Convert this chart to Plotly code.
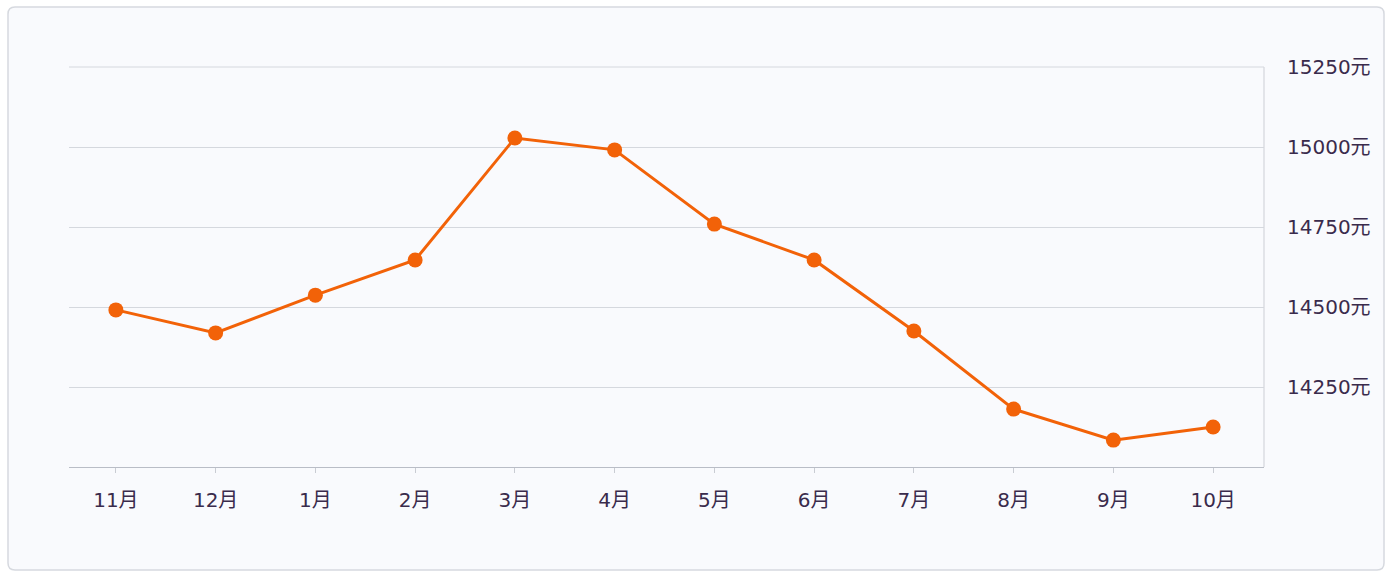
import plotly.graph_objects as go

months = ["11月", "12月", "1月", "2月", "3月", "4月", "5月", "6月", "7月", "8月", "9月", "10月"]
prices = [14491, 14419, 14537, 14647, 15028, 14991, 14759, 14647, 14425, 14181, 14084, 14125]
y_ticks = [14250, 14500, 14750, 15000, 15250]
y_labels = [f"{v}元" for v in y_ticks]

W, H = 1392, 578
L, R, T, B = 69, 128, 67, 111
pw, ph = W - L - R, H - T - B

def px(x):
    return (x - L) / pw

def py(y):
    return (H - B - y) / ph

ORANGE = "#f26208"
TEXT = "#3a2b4c"
FONT = "DejaVu Sans, Noto Sans CJK SC, sans-serif"

fig = go.Figure()
fig.add_trace(go.Scatter(
    x=months, y=prices, mode="lines+markers",
    line=dict(color=ORANGE, width=3),
    marker=dict(color=ORANGE, size=15),
    hoverinfo="x+y", showlegend=False,
))

# card background with rounded corners
x0, x1, y0, y1 = px(8), px(1384), py(570), py(7)
rx, ry = 7 / pw, 7 / ph
card = (f"M {x0+rx},{y1} L {x1-rx},{y1} Q {x1},{y1} {x1},{y1-ry} "
        f"L {x1},{y0+ry} Q {x1},{y0} {x1-rx},{y0} L {x0+rx},{y0} "
        f"Q {x0},{y0} {x0},{y0+ry} L {x0},{y1-ry} Q {x0},{y1} {x0+rx},{y1} Z")
shapes = [
    dict(type="path", xref="paper", yref="paper", path=card,
         fillcolor="#f9fafd", line=dict(color="#d6d9df", width=1.5), layer="below"),
    dict(type="line", xref="paper", yref="paper", x0=1, x1=1, y0=0, y1=1,
         line=dict(color="#d3d6dc", width=1.2), layer="below"),
    dict(type="line", xref="paper", yref="paper", x0=0, x1=1, y0=1, y1=1,
         line=dict(color="#d5d8de", width=1), layer="below"),
]

fig.update_layout(
    width=W, height=H,
    margin=dict(l=L, r=R, t=T, b=B),
    paper_bgcolor="white",
    plot_bgcolor="rgba(0,0,0,0)",
    shapes=shapes,
    font=dict(family=FONT, color=TEXT, size=20),
    xaxis=dict(
        type="category", range=[-0.47, 11.51],
        showgrid=False, showline=True, linecolor="#b9bdc6", linewidth=1.2,
        ticks="outside", ticklen=5, tickcolor="#c9ccd3", tickwidth=1,
        ticklabelstandoff=10, tickfont=dict(family=FONT, size=20, color=TEXT),
        zeroline=False, fixedrange=True,
    ),
    yaxis=dict(
        side="right", range=[14000, 15250], tickvals=y_ticks, ticktext=y_labels,
        showgrid=True, gridcolor="#d5d8de", gridwidth=1,
        showline=False, zeroline=False, ticks="", ticklabelstandoff=22,
        tickfont=dict(family=FONT, size=20, color=TEXT), fixedrange=True,
    ),
)

fig.write_html("out.html", config={"displayModeBar": False},
               post_script="document.body.style.margin='0';document.body.style.padding='0';")
